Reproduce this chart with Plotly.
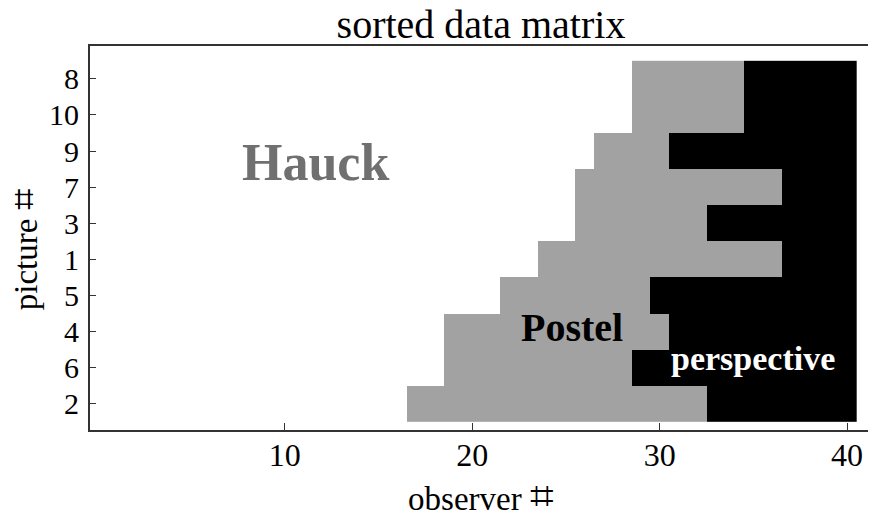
import plotly.graph_objects as go

# pictures, listed top to bottom
pictures = ["8", "10", "9", "7", "3", "1", "5", "4", "6", "2"]
# number of observers per judgement, per picture (observers sorted 1..40)
n_hauck = [28, 28, 26, 25, 25, 23, 21, 18, 18, 16]
n_postel = [6, 6, 4, 11, 7, 13, 8, 12, 10, 16]
n_perspective = [6, 6, 10, 4, 8, 4, 11, 10, 12, 8]
observers = list(range(1, 41))
x_ticks = [10, 20, 30, 40]

# build matrix: 0 = Hauck (white), 1 = Postel (gray), 2 = perspective (black)
rows = []
for h, p, s in zip(n_hauck, n_postel, n_perspective):
    rows.append([0] * h + [1] * p + [2] * s)
# y positions: bottom row = 1
n = len(pictures)
ypos = list(range(n, 0, -1))

serif = "Liberation Serif, Times New Roman, serif"
sharp_x = '<span style="font-size:42px">⌗</span>'
sharp_y = '<span style="font-size:38px">⌗</span>'

fig = go.Figure(go.Heatmap(
    z=rows, x=observers, y=ypos,
    colorscale=[[0, "#ffffff"], [0.333, "#ffffff"], [0.333, "#a2a2a2"],
                [0.666, "#a2a2a2"], [0.666, "#000000"], [1, "#000000"]],
    zmin=0, zmax=2, showscale=False, hoverinfo="skip",
))

fig.update_layout(
    width=868, height=513,
    margin=dict(l=82, r=4, t=38, b=91),
    paper_bgcolor="white", plot_bgcolor="white",
    font=dict(family=serif, color="black", size=30),
    title=dict(text="sorted data matrix", x=0.5, xref="paper", y=0.969,
               yanchor="middle", font=dict(size=40, family=serif)),
    xaxis=dict(range=[-0.39, 41.33], tickvals=x_ticks, ticks="inside",
               ticklen=7, tickcolor="#333", showgrid=False, zeroline=False,
               showline=True, linecolor="#333", linewidth=1.8, mirror=True,
               tickfont=dict(size=32, family=serif), automargin=False,
               ticklabelstandoff=-4,
               title=dict(text="observer " + sharp_x,
                          font=dict(size=33, family=serif), standoff=13)),
    yaxis=dict(range=[0.27, 10.91], tickvals=ypos, ticktext=pictures,
               ticks="inside", ticklen=6, tickcolor="#333", showgrid=False,
               zeroline=False, showline=True, linecolor="#333", linewidth=1.8,
               mirror=True, tickfont=dict(size=30, family=serif),
               ticklabelstandoff=3, automargin=False),
    annotations=[
        dict(text="picture " + sharp_y, xref="paper", yref="paper", x=-0.084,
             y=0.469, textangle=-90, showarrow=False,
             font=dict(size=33, family=serif), xanchor="center", yanchor="middle"),
        dict(text="<b>Hauck</b>", x=11.66, y=7.69, showarrow=False,
             font=dict(size=52, family=serif, color="#707070")),
        dict(text="<b>Postel</b>", x=25.32, y=3.10, showarrow=False,
             font=dict(size=40, family=serif, color="black")),
        dict(text="<b>perspective</b>", x=34.97, y=2.26, showarrow=False,
             font=dict(size=34, family=serif, color="white")),
    ],
)

fig.write_html("out.html")
